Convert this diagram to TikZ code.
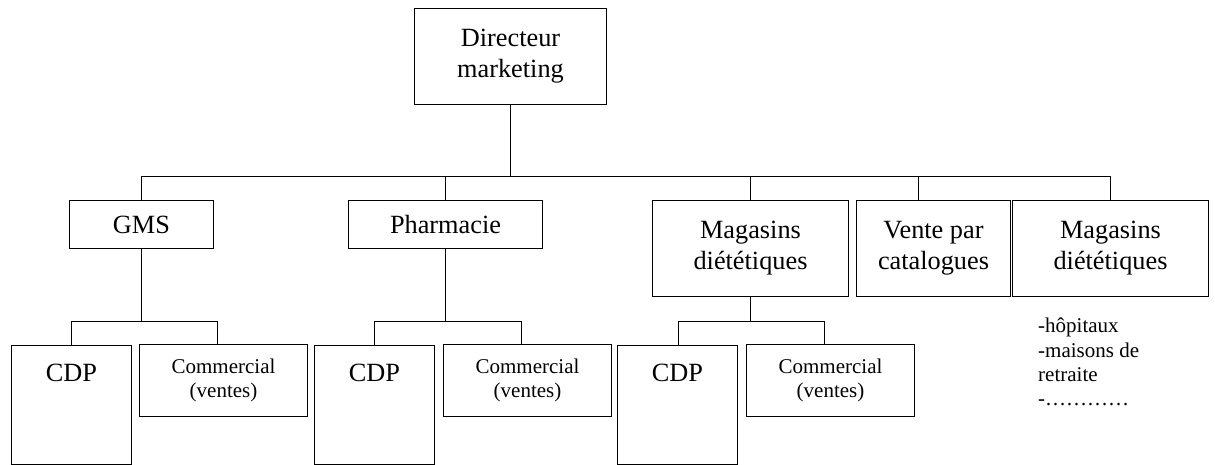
\documentclass[tikz,border=0pt]{standalone}
\usepackage{fontspec}
\setmainfont{Liberation Serif}
\begin{document}
\begin{tikzpicture}[x=1pt, y=-1pt,
  unit/.style={draw, line width=1.1pt, inner sep=0pt, align=center,
    font=\fontsize{26.3}{31}\selectfont},
  cdpbox/.style={draw, line width=1.1pt, inner xsep=0pt, inner ysep=0pt,
    minimum width=120pt, text height=36pt, text depth=83pt, anchor=north,
    font=\fontsize{26.3}{31}\selectfont},
  salesbox/.style={draw, line width=1.1pt, inner sep=0pt, align=center,
    minimum width=168pt, minimum height=72pt,
    font=\fontsize{21}{23.5}\selectfont},
  link/.style={line width=1.1pt}]
\useasboundingbox (0,0) rectangle (1215,464);

% top of the chart
\node[unit, minimum width=192pt, minimum height=96pt] (dir) at (510.5,56.5) {Directeur\\marketing};

% distribution channels
\node[unit, minimum width=144pt, minimum height=48pt] (gms) at (141.5,224.5) {GMS};
\node[unit, minimum width=194pt, minimum height=48pt] (pha) at (445.5,224.5) {Pharmacie};
\node[unit, minimum width=196pt, minimum height=96pt] (mag) at (750.5,248.5) {Magasins\\diététiques};
\node[unit, minimum width=154pt, minimum height=96pt] (vpc) at (933.5,248.5) {Vente par\\catalogues};
\node[unit, minimum width=196pt, minimum height=96pt] (mag2) at (1110.5,248.5) {Magasins\\diététiques};

% teams under each channel
\node[cdpbox] (cdp1) at (71.5,344.5) {CDP};
\node[salesbox] (com1) at (223.5,380.5) {Commercial\\(ventes)};
\node[cdpbox] (cdp2) at (374.5,344.5) {CDP};
\node[salesbox] (com2) at (527.5,380.5) {Commercial\\(ventes)};
\node[cdpbox] (cdp3) at (677.5,344.5) {CDP};
\node[salesbox] (com3) at (830.5,380.5) {Commercial\\(ventes)};

% institutional outlets
\node[anchor=north west, inner sep=0pt, align=left,
  font=\fontsize{21}{24.3}\selectfont] (inst) at (1038,318)
  {-hôpitaux\\-maisons de\\retraite\\-…………};

% main bus
\coordinate (bus) at (510.5,176.5);
\draw[link] (dir) -- (bus);
\draw[link] (gms.north) |- (bus);
\draw[link] (pha.north) |- (bus);
\draw[link] (mag.north) |- (bus);
\draw[link] ([xshift=-15pt]vpc.north) |- (bus);
\draw[link] (mag2.north) |- (bus);

% team buses
\coordinate (gbus) at (141.5,321.5);
\draw[link] (gms) -- (gbus);
\draw[link] (cdp1.north) |- (gbus);
\draw[link] ([xshift=-6pt]com1.north) |- (gbus);

\coordinate (pbus) at (445.5,321.5);
\draw[link] (pha) -- (pbus);
\draw[link] (cdp2.north) |- (pbus);
\draw[link] ([xshift=-6pt]com2.north) |- (pbus);

\coordinate (mbus) at (750.5,321.5);
\draw[link] (mag) -- (mbus);
\draw[link] ([xshift=1pt]cdp3.north) |- (mbus);
\draw[link] ([xshift=-6pt]com3.north) |- (mbus);
\end{tikzpicture}
\end{document}
